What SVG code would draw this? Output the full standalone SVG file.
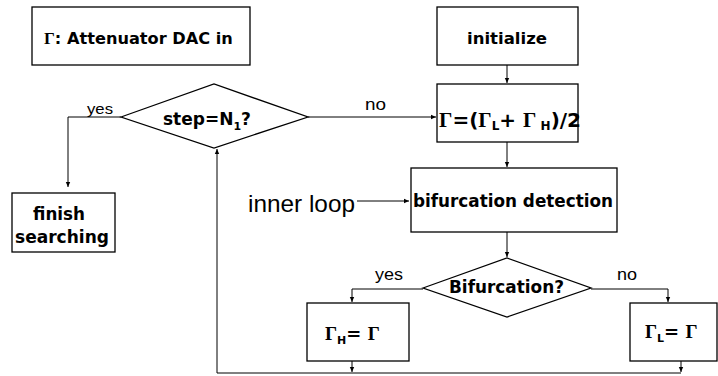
<svg xmlns="http://www.w3.org/2000/svg" width="718" height="376" viewBox="0 0 718 376">
<defs>
<marker id="ah" markerWidth="6" markerHeight="6" refX="5" refY="3" orient="auto" markerUnits="userSpaceOnUse">
<path d="M0,0.8 L5,3 L0,5.2 z" fill="#000"/>
</marker>
<style>
.box{fill:#fff;stroke:#000;stroke-width:1.3}
.ln{fill:none;stroke:#000;stroke-width:1}
.b{font-family:"DejaVu Sans",Verdana,sans-serif;font-weight:bold;fill:#000}
.g{font-family:"Liberation Serif","Times New Roman",serif;font-weight:bold}
.r{font-family:"Liberation Sans",Arial,sans-serif;fill:#000}
</style>
</defs>
<rect width="718" height="376" fill="#fff"/>
<g id="connectors">
<path class="ln" d="M507,65 V83" marker-end="url(#ah)"/>
<path class="ln" d="M308,117 H436" marker-end="url(#ah)"/>
<path class="ln" d="M121,117 H68 V187" marker-end="url(#ah)"/>
<path class="ln" d="M507,142 V167" marker-end="url(#ah)"/>
<path class="ln" d="M357,201 H409" marker-end="url(#ah)"/>
<path class="ln" d="M507,232 V257" marker-end="url(#ah)"/>
<path class="ln" d="M423,289 H352 V302" marker-end="url(#ah)"/>
<path class="ln" d="M591,289 H668 V302" marker-end="url(#ah)"/>
<path class="ln" d="M352,361 V372" marker-end="url(#ah)"/>
<path class="ln" d="M681,361 V372" marker-end="url(#ah)"/>
<path class="ln" d="M681,373 H217 V149" marker-end="url(#ah)"/>
<text class="r" x="87" y="114" font-size="15" textLength="26" lengthAdjust="spacingAndGlyphs">yes</text>
<text class="r" x="365" y="110" font-size="16" textLength="21" lengthAdjust="spacingAndGlyphs">no</text>
<text class="r" x="375" y="280" font-size="16" textLength="28" lengthAdjust="spacingAndGlyphs">yes</text>
<text class="r" x="617" y="280" font-size="16" textLength="20" lengthAdjust="spacingAndGlyphs">no</text>
</g>
<g id="attenuator">
<rect class="box" x="32" y="7" width="218" height="58"/>
<text class="b" x="44" y="44" font-size="16"><tspan class="g" font-size="17">Γ</tspan><tspan textLength="178" lengthAdjust="spacingAndGlyphs">: Attenuator DAC in</tspan></text>
</g>
<g id="initialize">
<rect class="box" x="437" y="7" width="141" height="58"/>
<text class="b" x="467" y="44" font-size="16" textLength="80" lengthAdjust="spacingAndGlyphs">initialize</text>
</g>
<g id="gamma-update">
<rect class="box" x="437" y="84" width="141" height="58"/>
<text class="b" x="439" y="127" font-size="20"><tspan class="g" font-size="21">Γ</tspan>=(<tspan class="g" font-size="21">Γ</tspan><tspan font-size="12" dy="3">L</tspan><tspan dy="-3">+ </tspan><tspan class="g" font-size="21">Γ</tspan><tspan font-size="12" dy="3"> H</tspan><tspan dy="-3">)/2</tspan></text>
</g>
<g id="step-decision">
<polygon class="box" points="121,117 214,84 308,117 214,148"/>
<text class="b" x="163" y="125" font-size="17">step=N<tspan font-size="11" dy="5">1</tspan><tspan dy="-5">?</tspan></text>
</g>
<g id="finish">
<rect class="box" x="12" y="193" width="103" height="59"/>
<text class="b" x="33" y="220" font-size="17" textLength="52" lengthAdjust="spacingAndGlyphs">finish</text>
<text class="b" x="15" y="243" font-size="17" textLength="94" lengthAdjust="spacingAndGlyphs">searching</text>
</g>
<g id="inner-loop">
<text class="r" x="248" y="212" font-size="24" textLength="107" lengthAdjust="spacingAndGlyphs">inner loop</text>
</g>
<g id="bifurcation-detection">
<rect class="box" x="411" y="168" width="206" height="64"/>
<text class="b" x="413" y="207" font-size="17" textLength="200" lengthAdjust="spacingAndGlyphs">bifurcation detection</text>
</g>
<g id="bifurcation-decision">
<polygon class="box" points="423,288 507,258 591,288 507,317"/>
<text class="b" x="449" y="293" font-size="17" textLength="115" lengthAdjust="spacingAndGlyphs">Bifurcation?</text>
</g>
<g id="gamma-h">
<rect class="box" x="307" y="303" width="102" height="58"/>
<text class="b" x="325" y="340" font-size="18"><tspan class="g" font-size="19">Γ</tspan><tspan font-size="11" dy="4">H</tspan><tspan dy="-4">= </tspan><tspan class="g" font-size="19">Γ</tspan></text>
</g>
<g id="gamma-l">
<rect class="box" x="630" y="303" width="87" height="58"/>
<text class="b" x="645" y="338" font-size="18"><tspan class="g" font-size="19">Γ</tspan><tspan font-size="11" dy="4">L</tspan><tspan dy="-4">= </tspan><tspan class="g" font-size="19">Γ</tspan></text>
</g>
</svg>
